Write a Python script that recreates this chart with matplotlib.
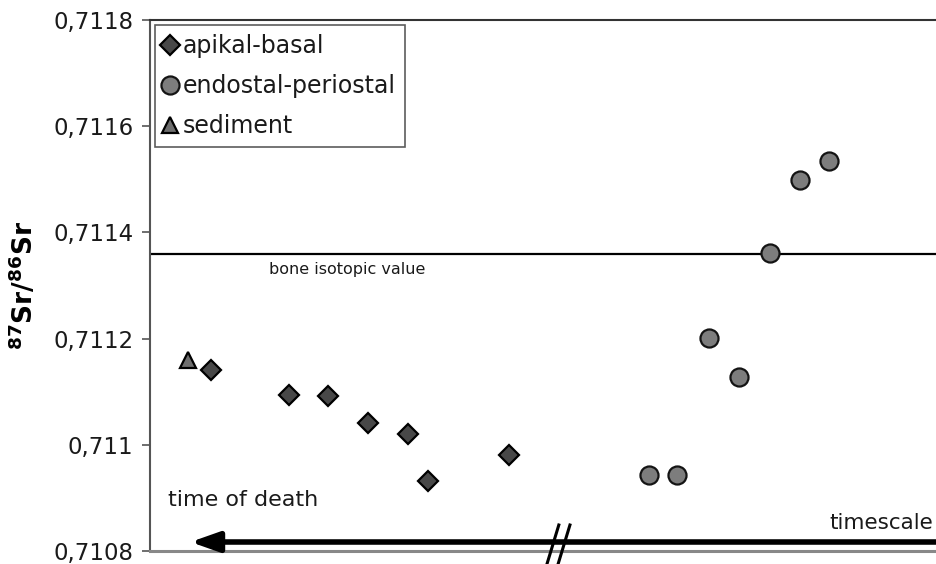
import matplotlib
matplotlib.use("Agg")
import matplotlib.pyplot as plt
from matplotlib.lines import Line2D

plt.rcParams['font.family'] = ['DejaVu Sans']
plt.rcParams['mathtext.default'] = 'bf'

# ---- data ----
sediment_x = [4.8]
sediment_y = [0.71116]

apikal_x = [7.6, 17.5, 22.4, 27.4, 32.4, 34.9, 45.1]
apikal_y = [0.71114, 0.711094, 0.711092, 0.711041, 0.71102, 0.710932, 0.710981]

endo_x = [62.6, 66.2, 70.2, 74.0, 77.8, 81.6, 85.3]
endo_y = [0.710943, 0.710943, 0.711201, 0.711128, 0.711361, 0.711499, 0.711534]

bone_value = 0.71136

yticks = [0.7108, 0.7110, 0.7112, 0.7114, 0.7116, 0.7118]
ytick_labels = ["0,7108", "0,711", "0,7112", "0,7114", "0,7116", "0,7118"]

# ---- figure ----
fig = plt.figure(figsize=(9.37, 5.64), dpi=100)
fig.patch.set_facecolor('white')
ax = fig.add_axes([150/937, 1 - 551/564, 1 - 150/937 + 0.01, 531/564])
ax.set_facecolor('white')

ax.set_xlim(0, 100)
ax.set_ylim(0.7108, 0.7118)

ax.axhline(bone_value, color='black', lw=1.6, zorder=2)
ax.text(118 / 787, (bone_value - 0.7108) / 0.001 - 0.03,
        "bone isotopic value", transform=ax.transAxes, fontsize=11.5,
        ha='left', va='center', color='#1a1a1a')

ax.plot(apikal_x, apikal_y, linestyle='none', marker='D', markersize=10.5,
        markerfacecolor='#484848', markeredgecolor='black', markeredgewidth=1.6,
        label='apikal-basal', zorder=4)
ax.plot(endo_x, endo_y, linestyle='none', marker='o', markersize=13,
        markerfacecolor='#7d7d7d', markeredgecolor='#141414', markeredgewidth=1.6,
        label='endostal-periostal', zorder=4)
ax.plot(sediment_x, sediment_y, linestyle='none', marker='^', markersize=12,
        markerfacecolor='#6e6e6e', markeredgecolor='black', markeredgewidth=1.6,
        label='sediment', zorder=4)

leg = ax.legend(loc='upper left', bbox_to_anchor=(0.006, 0.99), fontsize=17,
                handlelength=0.5, handletextpad=0.3, labelspacing=0.68,
                borderpad=0.38, frameon=True, fancybox=False, borderaxespad=0.0)
leg.get_frame().set_edgecolor('#333333')
leg.get_frame().set_linewidth(1.2)
for t in leg.get_texts():
    t.set_color('#1a1a1a')

# spines
ax.spines['right'].set_visible(False)
ax.spines['top'].set_color('#333333')
ax.spines['top'].set_linewidth(1.5)
ax.spines['left'].set_color('#555555')
ax.spines['left'].set_linewidth(1.5)
ax.spines['bottom'].set_color('#888888')
ax.spines['bottom'].set_linewidth(2.2)

ax.set_xticks([])
ax.set_yticks(yticks)
ax.set_yticklabels(ytick_labels, fontsize=16.5, color='#1a1a1a')
ax.tick_params(axis='y', direction='out', length=6, width=1.2, color='#555555', pad=6)

ax.set_ylabel(r'$^{87}$Sr/$^{86}$Sr', fontsize=19, fontweight='bold', labelpad=10)

# timeline arrow
ax.annotate('', xy=(40/787, 9/531), xycoords='axes fraction',
            xytext=(1.02, 9/531), textcoords='axes fraction',
            arrowprops=dict(arrowstyle='-|>,head_length=1.7,head_width=0.6',
                            color='black', lw=4.0, shrinkA=0, shrinkB=0),
            annotation_clip=False, zorder=5)

# break marks
for dx in (0, 11):
    x0 = (548 - 150 + dx) / 787
    ax.add_line(Line2D([x0 - 6/787, x0 + 6/787], [-14/531, 26/531],
                       transform=ax.transAxes, color='black', lw=2.2,
                       clip_on=False, zorder=6))

ax.text(18/787, (551 - 500)/531, 'time of death', transform=ax.transAxes,
        fontsize=16, ha='left', va='center', color='#1a1a1a')
fig.text(933/937, 1 - 523/564, 'timescale',
         fontsize=15.5, ha='right', va='center', color='#1a1a1a')

fig.savefig('out.png', dpi=100)
